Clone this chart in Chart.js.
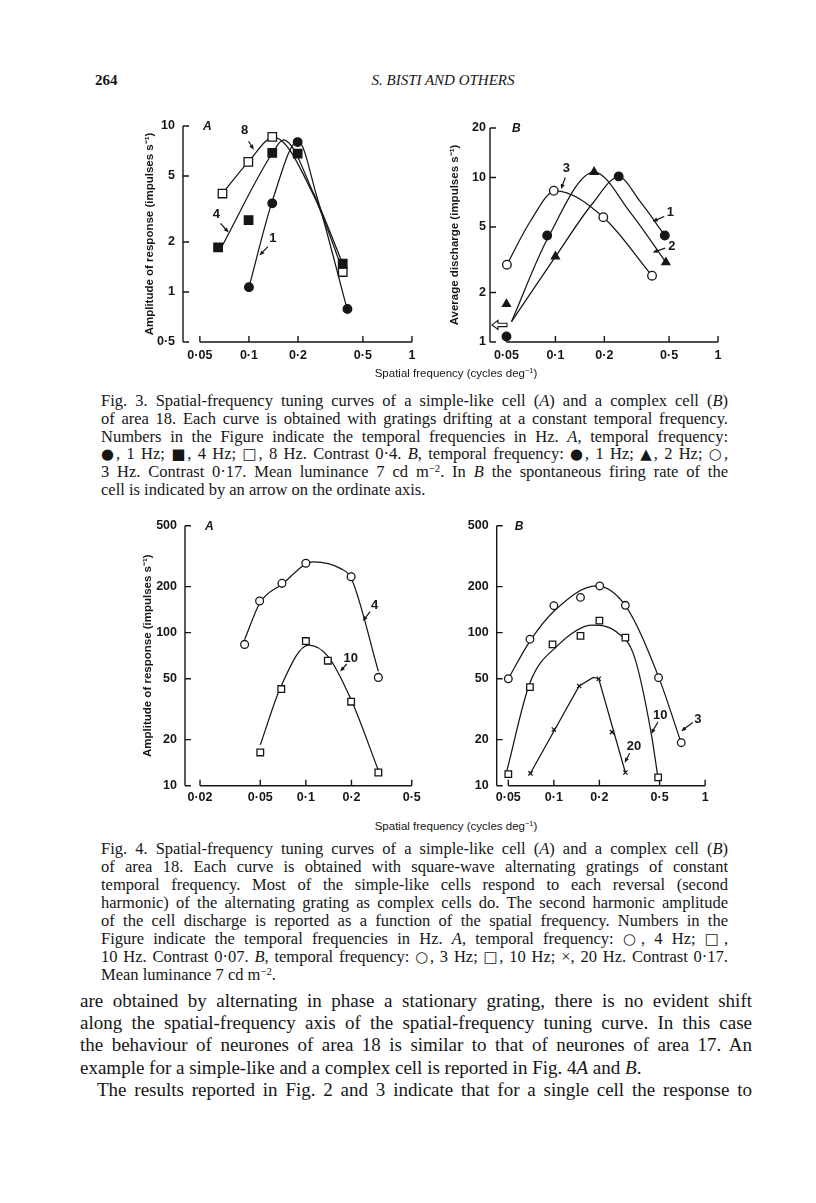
<!DOCTYPE html>
<html><head><meta charset="utf-8"><title>Fig. 3 and Fig. 4 — spatial-frequency tuning curves</title>
<script src="https://cdn.jsdelivr.net/npm/chart.js@4.4.1/dist/chart.umd.min.js"></script>
<style>
html,body{margin:0;padding:0;background:#fff}
body{position:relative;width:816px;height:1203px;overflow:hidden;color:#161616;font-family:"Liberation Serif","Times New Roman",serif}
.t{position:absolute;white-space:nowrap}
.panel{position:absolute}
.blk{position:absolute}
.blk div{text-align:justify;text-align-last:justify}
.blk div.last{text-align-last:left}
sup{font-size:0.65em;line-height:0;vertical-align:0.5em}
.sym{font-family:"DejaVu Sans",sans-serif;font-size:0.9em;line-height:0}
.sf{font-family:"Liberation Sans",Arial,sans-serif;font-size:11.5px;line-height:14px}
.cap{left:101px;width:627px;font-size:16.5px;line-height:17.8px}
.bodytxt{left:80px;width:672px;font-size:19px;line-height:22.2px}
</style></head><body>

<div class="t" style="left:95px;top:71px;font-size:15px;font-weight:bold;line-height:18px">264</div>
<div class="t" style="left:0;width:886px;text-align:center;top:71px;font-size:15px;font-style:italic;line-height:18px">S. BISTI AND OTHERS</div>

<div class="panel" style="left:130px;top:100px"><canvas id="f3a" width="310" height="270" style="width:310px;height:270px"></canvas></div>
<div class="panel" style="left:430px;top:100px"><canvas id="f3b" width="310" height="270" style="width:310px;height:270px"></canvas></div>
<div class="t sf" style="left:0;width:912px;text-align:center;top:366px">Spatial frequency (cycles deg<sup>−1</sup>)</div>

<div class="blk cap" style="top:392px">
<div>Fig. 3. Spatial-frequency tuning curves of a simple-like cell (<i>A</i>) and a complex cell (<i>B</i>)</div>
<div>of area 18. Each curve is obtained with gratings drifting at a constant temporal frequency.</div>
<div>Numbers in the Figure indicate the temporal frequencies in Hz. <i>A</i>, temporal frequency:</div>
<div><span class="sym">●</span>, 1 Hz; <span class="sym">■</span>, 4 Hz; <span class="sym">□</span>, 8 Hz. Contrast 0·4. <i>B</i>, temporal frequency: <span class="sym">●</span>, 1 Hz; <span class="sym">▲</span>, 2 Hz; <span class="sym">○</span>,</div>
<div>3 Hz. Contrast 0·17. Mean luminance 7 cd m<sup>−2</sup>. In <i>B</i> the spontaneous firing rate of the</div>
<div class="last">cell is indicated by an arrow on the ordinate axis.</div>
</div>

<div class="panel" style="left:120px;top:500px"><canvas id="f4a" width="320" height="310" style="width:320px;height:310px"></canvas></div>
<div class="panel" style="left:450px;top:500px"><canvas id="f4b" width="290" height="310" style="width:290px;height:310px"></canvas></div>
<div class="t sf" style="left:0;width:912px;text-align:center;top:819px">Spatial frequency (cycles deg<sup>−1</sup>)</div>

<div class="blk cap" style="top:840px;line-height:18px">
<div>Fig. 4. Spatial-frequency tuning curves of a simple-like cell (<i>A</i>) and a complex cell (<i>B</i>)</div>
<div>of area 18. Each curve is obtained with square-wave alternating gratings of constant</div>
<div>temporal frequency. Most of the simple-like cells respond to each reversal (second</div>
<div>harmonic) of the alternating grating as complex cells do. The second harmonic amplitude</div>
<div>of the cell discharge is reported as a function of the spatial frequency. Numbers in the</div>
<div>Figure indicate the temporal frequencies in Hz. <i>A</i>, temporal frequency: <span class="sym">○</span>, 4 Hz; <span class="sym">□</span>,</div>
<div>10 Hz. Contrast 0·07. <i>B</i>, temporal frequency: <span class="sym">○</span>, 3 Hz; <span class="sym">□</span>, 10 Hz; ×, 20 Hz. Contrast 0·17.</div>
<div class="last">Mean luminance 7 cd m<sup>−2</sup>.</div>
</div>

<div class="blk bodytxt" style="top:990px">
<div>are obtained by alternating in phase a stationary grating, there is no evident shift</div>
<div>along the spatial-frequency axis of the spatial-frequency tuning curve. In this case</div>
<div>the behaviour of neurones of area 18 is similar to that of neurones of area 17. An</div>
<div class="last">example for a simple-like and a complex cell is reported in Fig. 4<i>A</i> and <i>B</i>.</div>
<div style="text-indent:17px">The results reported in Fig. 2 and 3 indicate that for a single cell the response to</div>
</div>

<script>
// ---------------- DATA ----------------
// Fig. 3A (simple-like cell, drifting gratings)
const f3A_xTicks = [0.05, 0.1, 0.2, 0.5, 1];
const f3A_xLabels = ['0·05', '0·1', '0·2', '0·5', '1'];
const f3A_yTicks = [0.5, 1, 2, 5, 10];
const f3A_yLabels = ['0·5', '1', '2', '5', '10'];
const f3A_1Hz_x = [0.1, 0.139, 0.199, 0.402];
const f3A_1Hz_y = [1.07, 3.42, 8.0, 0.79];
const f3A_4Hz_x = [0.0647, 0.0995, 0.139, 0.199, 0.376];
const f3A_4Hz_y = [1.86, 2.71, 6.89, 6.82, 1.48];
const f3A_8Hz_x = [0.0688, 0.0991, 0.139, 0.376];
const f3A_8Hz_y = [3.92, 6.08, 8.59, 1.32];
const f3A_curve1_x = [0.1, 0.14, 0.2, 0.26, 0.4];
const f3A_curve1_y = [1.07, 3.6, 8.1, 3.8, 0.79];
const f3A_curve4_x = [0.068, 0.139, 0.163, 0.25, 0.376];
const f3A_curve4_y = [1.87, 6.85, 8.25, 3.9, 1.48];
const f3A_curve8_x = [0.0688, 0.0991, 0.142, 0.25, 0.376];
const f3A_curve8_y = [3.92, 6.08, 8.55, 3.8, 1.35];

// Fig. 3B (complex cell, drifting gratings)
const f3B_xTicks = [0.05, 0.1, 0.2, 0.5, 1];
const f3B_xLabels = ['0·05', '0·1', '0·2', '0·5', '1'];
const f3B_yTicks = [1, 2, 5, 10, 20];
const f3B_yLabels = ['1', '2', '5', '10', '20'];
const f3B_1Hz_x = [0.05, 0.089, 0.245, 0.471];
const f3B_1Hz_y = [1.08, 4.44, 10.16, 4.44];
const f3B_2Hz_x = [0.05, 0.1, 0.173, 0.478];
const f3B_2Hz_y = [1.70, 3.31, 10.8, 3.05];
const f3B_3Hz_x = [0.0503, 0.0977, 0.197, 0.393];
const f3B_3Hz_y = [2.95, 8.31, 5.74, 2.53];
const f3B_curve1_x = [0.0537, 0.1, 0.17, 0.245, 0.33, 0.471];
const f3B_curve1_y = [1.33, 3.3, 7.0, 10.1, 7.2, 4.44];
const f3B_curve2_x = [0.0537, 0.09, 0.173, 0.29, 0.478];
const f3B_curve2_y = [1.33, 4.3, 10.8, 6.1, 3.05];
const f3B_curve3_x = [0.0503, 0.07, 0.1, 0.197, 0.393];
const f3B_curve3_y = [2.95, 5.4, 8.3, 5.74, 2.53];
const f3B_spontaneous = 1.27;

// Fig. 4A (simple-like cell, alternating gratings)
const f4A_xTicks = [0.02, 0.05, 0.1, 0.2, 0.5];
const f4A_xLabels = ['0·02', '0·05', '0·1', '0·2', '0·5'];
const f4_yTicks = [10, 20, 50, 100, 200, 500];
const f4_yLabels = ['10', '20', '50', '100', '200', '500'];
const f4A_4Hz_x = [0.0394, 0.0495, 0.0695, 0.1, 0.199, 0.301];
const f4A_4Hz_y = [83.8, 161, 210, 284, 232, 51];
const f4A_10Hz_x = [0.05, 0.0688, 0.1, 0.1397, 0.199, 0.301];
const f4A_10Hz_y = [16.5, 42.8, 88.1, 65.6, 35.4, 12.2];
const f4A_curve4_x = [0.0394, 0.05, 0.0695, 0.112, 0.17, 0.2, 0.301];
const f4A_curve4_y = [90, 158, 207, 290, 262, 225, 56];
const f4A_curve10_x = [0.05, 0.0688, 0.104, 0.14, 0.2, 0.301];
const f4A_curve10_y = [18.5, 45, 83, 70, 36, 12.6];

// Fig. 4B (complex cell, alternating gratings)
const f4B_xTicks = [0.05, 0.1, 0.2, 0.5, 1];
const f4B_xLabels = ['0·05', '0·1', '0·2', '0·5', '1'];
const f4B_3Hz_x = [0.05, 0.0695, 0.1, 0.15, 0.201, 0.297, 0.492, 0.695];
const f4B_3Hz_y = [50, 90.6, 150, 170, 202, 151, 50.8, 19.1];
const f4B_10Hz_x = [0.05, 0.0695, 0.098, 0.15, 0.2, 0.297, 0.489];
const f4B_10Hz_y = [11.9, 44.1, 83.9, 95.2, 120, 92.9, 11.35];
const f4B_20Hz_x = [0.07, 0.1, 0.147, 0.198, 0.242, 0.297];
const f4B_20Hz_y = [12.05, 23.3, 44.8, 50, 22.4, 12.2];
const f4B_curve3_x = [0.05, 0.0695, 0.1, 0.191, 0.297, 0.49, 0.695];
const f4B_curve3_y = [50, 88, 138, 202, 150, 52, 19];
const f4B_curve10_x = [0.0487, 0.0695, 0.104, 0.18, 0.26, 0.34, 0.44, 0.489];
const f4B_curve10_y = [12.3, 47, 81, 112, 101, 70, 22, 11.1];
const f4B_curve20_x = [0.07, 0.147, 0.182, 0.198, 0.297];
const f4B_curve20_y = [12.05, 44.8, 51, 50, 12.2];

// ---------------- DRAWING ----------------
const INK = '#161616';
const SANS = '"Liberation Sans", Arial, sans-serif';
const zip = (xs, ys) => xs.map((x, i) => ({x, y: ys[i]}));

function markers(xs, ys, style, r, filled) {
  return {data: zip(xs, ys), showLine: false, order: 0, clip: false,
    pointStyle: style, pointRadius: r, pointHoverRadius: r,
    pointBackgroundColor: filled ? INK : '#fff', pointBorderColor: INK, pointBorderWidth: 1.3};
}
function curve(xs, ys, smooth) {
  return {data: zip(xs, ys), showLine: true, order: 1, pointRadius: 0, pointHoverRadius: 0,
    borderColor: INK, borderWidth: 1.25, fill: false,
    cubicInterpolationMode: smooth ? 'monotone' : 'default', tension: 0};
}

function arrow(ctx, x1, y1, x2, y2, head) {
  const a = Math.atan2(y2 - y1, x2 - x1);
  ctx.beginPath(); ctx.moveTo(x1, y1);
  ctx.lineTo(x2 - Math.cos(a) * head * 0.7, y2 - Math.sin(a) * head * 0.7); ctx.stroke();
  ctx.beginPath(); ctx.moveTo(x2, y2);
  ctx.lineTo(x2 - head * Math.cos(a) + head * 0.42 * Math.sin(a), y2 - head * Math.sin(a) - head * 0.42 * Math.cos(a));
  ctx.lineTo(x2 - head * Math.cos(a) - head * 0.42 * Math.sin(a), y2 - head * Math.sin(a) + head * 0.42 * Math.cos(a));
  ctx.closePath(); ctx.fill();
}

function axesPlugin(spec) {
  return {
    id: 'paperAxes',
    afterDraw(chart) {
      const {ctx, chartArea} = chart;
      const xs = chart.scales.x, ys = chart.scales.y;
      const X0 = chartArea.left;
      const yTop = ys.getPixelForValue(spec.yTicks[spec.yTicks.length - 1]);
      const yBot = ys.getPixelForValue(spec.yTicks[0]);
      ctx.save();
      ctx.strokeStyle = INK; ctx.fillStyle = INK; ctx.lineWidth = 1.4;
      ctx.beginPath();
      ctx.moveTo(X0, yTop); ctx.lineTo(X0, yBot);
      for (const v of spec.yTicks) { const py = ys.getPixelForValue(v); ctx.moveTo(X0, py); ctx.lineTo(X0 + 6, py); }
      const xL = xs.getPixelForValue(spec.xTicks[0]);
      const xR = xs.getPixelForValue(spec.xTicks[spec.xTicks.length - 1]);
      ctx.moveTo(xL, yBot); ctx.lineTo(xR, yBot);
      for (const v of spec.xTicks) { const px = xs.getPixelForValue(v); ctx.moveTo(px, yBot); ctx.lineTo(px, yBot - 6); }
      ctx.stroke();
      ctx.font = 'italic bold 12px ' + SANS;
      ctx.textBaseline = 'middle'; ctx.textAlign = 'left';
      ctx.fillText(spec.letter, X0 + spec.letterDx, yTop + 1);
      ctx.font = 'bold 13px ' + SANS;
      ctx.textAlign = 'center';
      ctx.lineWidth = 1.2;
      for (const n of spec.notes) {
        ctx.fillText(n.text, xs.getPixelForValue(n.at[0]), ys.getPixelForValue(n.at[1]));
        arrow(ctx, xs.getPixelForValue(n.from[0]), ys.getPixelForValue(n.from[1]),
                   xs.getPixelForValue(n.to[0]), ys.getPixelForValue(n.to[1]), 5);
      }
      if (spec.spont) {
        const py = ys.getPixelForValue(spec.spont);
        const tx = X0 + 2;
        ctx.lineWidth = 1.1;
        ctx.beginPath();
        ctx.moveTo(tx, py); ctx.lineTo(tx + 6, py - 4.5); ctx.lineTo(tx + 6, py - 1.7);
        ctx.lineTo(tx + 15, py - 1.7); ctx.lineTo(tx + 15, py + 1.7); ctx.lineTo(tx + 6, py + 1.7);
        ctx.lineTo(tx + 6, py + 4.5); ctx.closePath(); ctx.stroke();
      }
      ctx.restore();
    }
  };
}

function panel(id, spec) {
  const tickFont = {family: SANS, size: 12.5, weight: 'bold'};
  new Chart(document.getElementById(id), {
    type: 'scatter',
    data: {datasets: spec.datasets},
    options: {
      responsive: false, animation: false, devicePixelRatio: 1, events: [],
      layout: {padding: spec.padding},
      plugins: {legend: {display: false}, tooltip: {enabled: false}},
      scales: {
        x: {type: 'logarithmic', min: spec.xMin, max: spec.xMax, bounds: 'data',
          grid: {display: false, drawTicks: false}, border: {display: false},
          afterBuildTicks: s => { s.ticks = spec.xTicks.map(v => ({value: v})); },
          afterFit: s => { s.height = 20; },
          ticks: {autoSkip: false, maxRotation: 0, minRotation: 0, padding: spec.xPad, color: INK, font: tickFont,
            callback: (v, i) => spec.xLabels[i]}},
        y: {type: 'logarithmic', min: spec.yTicks[0], max: spec.yTicks[spec.yTicks.length - 1], bounds: 'data',
          grid: {display: false, drawTicks: false}, border: {display: false},
          afterBuildTicks: s => { s.ticks = spec.yTicks.map(v => ({value: v})); },
          afterFit: s => { s.width = spec.yW; },
          title: {display: !!spec.yTitle, text: spec.yTitle || '', color: INK,
            font: {family: SANS, size: 11.5, weight: 'bold'}, padding: {top: spec.titlePad, bottom: 0}},
          ticks: {autoSkip: false, padding: spec.yPad, color: INK, font: tickFont,
            callback: (v, i) => spec.yLabels[i]}}
      }
    },
    plugins: [axesPlugin(spec)]
  });
}

panel('f3a', {
  xTicks: f3A_xTicks, xLabels: f3A_xLabels, yTicks: f3A_yTicks, yLabels: f3A_yLabels,
  xMin: 0.0394, xMax: 1.12, padding: {left: 8, top: 26, right: 20, bottom: 8}, yW: 45, xPad: 6, yPad: 8,
  yTitle: 'Amplitude of response (impulses s⁻¹)', titlePad: 5, letter: 'A', letterDx: 20,
  notes: [
    {text: '8', at: [0.094, 9.4], from: [0.0995, 8.1], to: [0.107, 7.2]},
    {text: '4', at: [0.0632, 2.95], from: [0.0669, 2.59], to: [0.0751, 2.28]},
    {text: '1', at: [0.14, 2.11], from: [0.1306, 1.877], to: [0.116, 1.66]}
  ],
  datasets: [
    markers(f3A_1Hz_x, f3A_1Hz_y, 'circle', 4.3, true),
    markers(f3A_4Hz_x, f3A_4Hz_y, 'rect', 6, true),
    markers(f3A_8Hz_x, f3A_8Hz_y, 'rect', 6, false),
    curve(f3A_curve1_x, f3A_curve1_y, true),
    curve(f3A_curve4_x, f3A_curve4_y, true),
    curve(f3A_curve8_x, f3A_curve8_y, true)
  ]
});

panel('f3b', {
  xTicks: f3B_xTicks, xLabels: f3B_xLabels, yTicks: f3B_yTicks, yLabels: f3B_yLabels,
  xMin: 0.0396, xMax: 1.12, padding: {left: 10, top: 28, right: 14, bottom: 8}, yW: 50, xPad: 6, yPad: 4,
  yTitle: 'Average discharge (impulses s⁻¹)', titlePad: 8, letter: 'B', letterDx: 22,
  spont: f3B_spontaneous,
  notes: [
    {text: '3', at: [0.1167, 11.3], from: [0.115, 10.0], to: [0.1083, 8.5]},
    {text: '1', at: [0.51, 6.14], from: [0.4667, 5.8], to: [0.396, 5.4]},
    {text: '2', at: [0.52, 3.8], from: [0.4727, 3.72], to: [0.396, 3.5]}
  ],
  datasets: [
    markers(f3B_1Hz_x, f3B_1Hz_y, 'circle', 4.3, true),
    markers(f3B_2Hz_x, f3B_2Hz_y, 'triangle', 4.6, true),
    markers(f3B_3Hz_x, f3B_3Hz_y, 'circle', 4.3, false),
    curve(f3B_curve1_x, f3B_curve1_y, true),
    curve(f3B_curve2_x, f3B_curve2_y, true),
    curve(f3B_curve3_x, f3B_curve3_y, true)
  ]
});

panel('f4a', {
  xTicks: f4A_xTicks, xLabels: f4A_xLabels, yTicks: f4_yTicks, yLabels: f4_yLabels,
  xMin: 0.01592, xMax: 0.55, padding: {left: 10, top: 25.7, right: 22, bottom: 4.3}, yW: 55, xPad: 4, yPad: 8,
  yTitle: 'Amplitude of response (impulses s⁻¹)', titlePad: 11, letter: 'A', letterDx: 20,
  notes: [
    {text: '4', at: [0.284, 151.5], from: [0.2656, 137], to: [0.2375, 119]},
    {text: '10', at: [0.198, 68], from: [0.186, 62.4], to: [0.1684, 55.7]}
  ],
  datasets: [
    markers(f4A_4Hz_x, f4A_4Hz_y, 'circle', 3.9, false),
    markers(f4A_10Hz_x, f4A_10Hz_y, 'rect', 4.7, false),
    curve(f4A_curve4_x, f4A_curve4_y, true),
    curve(f4A_curve10_x, f4A_curve10_y, true)
  ]
});

panel('f4b', {
  xTicks: f4B_xTicks, xLabels: f4B_xLabels, yTicks: f4_yTicks, yLabels: f4_yLabels,
  xMin: 0.0419, xMax: 1.11, padding: {left: 6.7, top: 25.7, right: 28, bottom: 4.3}, yW: 40, xPad: 4, yPad: 8,
  yTitle: '', titlePad: 0, letter: 'B', letterDx: 18,
  notes: [
    {text: '10', at: [0.505, 28.7], from: [0.4874, 26.1], to: [0.4396, 21.8]},
    {text: '3', at: [0.894, 27], from: [0.8275, 25.9], to: [0.695, 22.7]},
    {text: '20', at: [0.339, 18.0], from: [0.3168, 16.3], to: [0.294, 14.1]}
  ],
  datasets: [
    markers(f4B_3Hz_x, f4B_3Hz_y, 'circle', 3.8, false),
    markers(f4B_10Hz_x, f4B_10Hz_y, 'rect', 4.6, false),
    markers(f4B_20Hz_x, f4B_20Hz_y, 'crossRot', 3, false),
    curve(f4B_curve3_x, f4B_curve3_y, true),
    curve(f4B_curve10_x, f4B_curve10_y, true),
    curve(f4B_curve20_x, f4B_curve20_y, false)
  ]
});
</script>
</body></html>
